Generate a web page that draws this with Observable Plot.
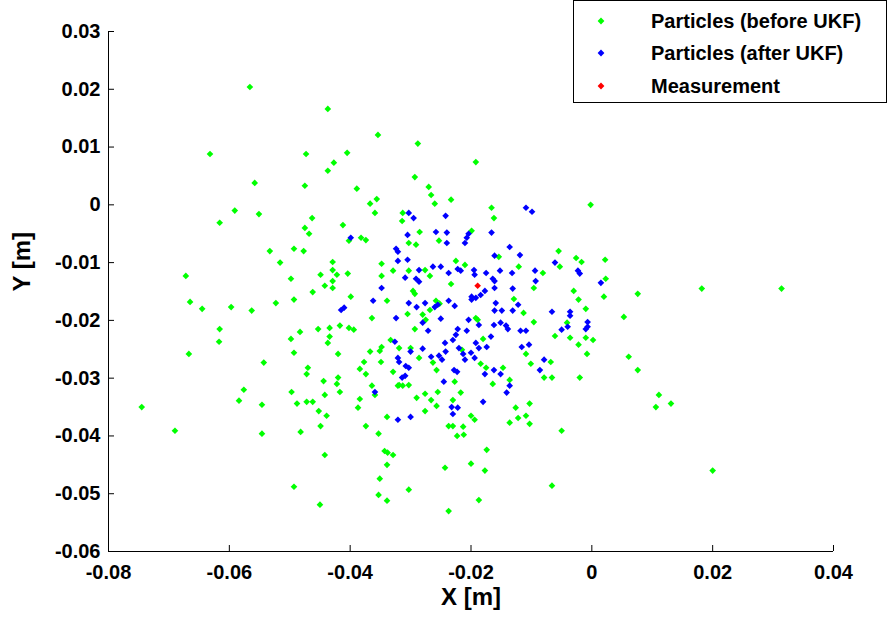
<!DOCTYPE html>
<html>
<head>
<meta charset="utf-8">
<script src="https://cdn.jsdelivr.net/npm/d3@7"></script>
<script src="https://cdn.jsdelivr.net/npm/@observablehq/plot@0.6"></script>
<style>
  html, body { margin: 0; padding: 0; background: #fff; }
  #wrap { position: relative; width: 890px; height: 621px; font-family: "Liberation Sans", Arial, sans-serif; }
  #legend { position: absolute; left: 573px; top: 0px; width: 314px; height: 103px; border: 1px solid #000; background: #fff; box-sizing: border-box; }
  .row { position: absolute; left: 0; height: 24px; font-weight: bold; font-size: 20px; color: #000; }
  .row svg { position: absolute; left: 21px; top: 5px; }
  .row span { position: absolute; left: 77px; top: 0px; white-space: nowrap; line-height: 24px; }
</style>
</head>
<body>
<div id="wrap">
  <div id="chart"></div>
  <div id="legend"></div>
</div>
<script>
const beforeX = [-0.0566,-0.0632,-0.0558,-0.0475,-0.0591,-0.0551,-0.0616,-0.0475,-0.0533,-0.0493,-0.0477,-0.0516,-0.0672,-0.0498,-0.0665,-0.0523,-0.0493,-0.0645,-0.0597,-0.0563,-0.0616,-0.0617,-0.0667,-0.0483,-0.0498,-0.0493,-0.0543,-0.0576,-0.0584,-0.0546,-0.0497,-0.0488,-0.0745,-0.0690,-0.0546,-0.0482,-0.0493,-0.0437,-0.0354,-0.0288,-0.0473,-0.0405,-0.0427,-0.0437,-0.0389,-0.0293,-0.0270,-0.0266,-0.0260,-0.0233,-0.0367,-0.0356,-0.0359,-0.0463,-0.0468,-0.0412,-0.0313,-0.0314,-0.0285,-0.0192,-0.0166,-0.0162,-0.0002,-0.0199,-0.0402,-0.0382,-0.0374,-0.0429,-0.0429,-0.0449,-0.0422,-0.0404,-0.0429,-0.0442,-0.0429,-0.0462,-0.0348,-0.0329,-0.0348,-0.0399,-0.0339,-0.0364,-0.0453,-0.0434,-0.0417,-0.0402,-0.0394,-0.0434,-0.0437,-0.0333,-0.0348,-0.0253,-0.0291,-0.0303,-0.0225,-0.0210,-0.0303,-0.0276,-0.0268,-0.0233,-0.0296,-0.0293,-0.0258,-0.0252,-0.0305,-0.0268,-0.0280,-0.0275,-0.0293,-0.0192,-0.0189,-0.0180,-0.0300,-0.0055,-0.0154,-0.0026,-0.0017,-0.0053,-0.0121,-0.0081,-0.0096,-0.0030,-0.0129,-0.0022,-0.0113,-0.0010,-0.0041,-0.0096,-0.0061,-0.0036,-0.0022,-0.0010,0.0002,-0.0420,-0.0470,-0.0472,-0.0367,-0.0351,-0.0349,-0.0377,-0.0384,-0.0374,-0.0329,-0.0444,-0.0420,-0.0422,-0.0417,-0.0442,-0.0364,-0.0359,-0.0321,-0.0472,-0.0462,-0.0384,-0.0387,-0.0452,-0.0439,-0.0339,-0.0449,-0.0374,-0.0353,-0.0343,-0.0338,-0.0329,-0.0442,-0.0339,-0.0351,-0.0353,-0.0339,-0.0450,-0.0319,-0.0286,-0.0263,-0.0215,-0.0184,-0.0175,-0.0257,-0.0319,-0.0313,-0.0303,-0.0227,-0.0164,-0.0255,-0.0276,-0.0290,-0.0266,-0.0217,-0.0257,-0.0230,-0.0276,-0.0200,-0.0194,-0.0237,-0.0230,-0.0213,-0.0223,-0.0212,-0.0174,-0.0200,-0.0177,-0.0243,-0.0303,-0.0187,-0.0237,-0.0008,-0.0109,-0.0101,-0.0068,-0.0079,-0.0066,-0.0020,-0.0147,-0.0136,-0.0126,-0.0103,-0.0122,-0.0109,-0.0136,-0.0103,-0.0050,-0.0066,0.0022,0.0023,0.0020,0.0076,0.0182,0.0314,0.0053,0.0061,0.0076,0.0111,0.0106,0.0131,0.0200];
const beforeY = [0.0204,0.0088,0.0038,0.0033,-0.0010,-0.0016,-0.0031,-0.0040,-0.0080,-0.0076,-0.0080,-0.0100,-0.0123,-0.0128,-0.0168,-0.0170,-0.0164,-0.0180,-0.0177,-0.0183,-0.0215,-0.0237,-0.0258,-0.0220,-0.0232,-0.0256,-0.0273,-0.0320,-0.0339,-0.0346,-0.0324,-0.0344,-0.0350,-0.0391,-0.0396,-0.0393,-0.0488,0.0166,0.0121,0.0106,0.0088,0.0090,0.0073,0.0059,0.0028,0.0048,0.0031,0.0017,0.0002,0.0009,0.0002,0.0010,-0.0014,-0.0023,-0.0050,-0.0035,-0.0014,-0.0028,-0.0047,0.0074,-0.0005,-0.0023,0.0000,-0.0045,-0.0062,-0.0057,-0.0061,-0.0099,-0.0113,-0.0121,-0.0121,-0.0119,-0.0132,-0.0140,-0.0144,-0.0151,-0.0102,-0.0114,-0.0123,-0.0159,-0.0166,-0.0196,-0.0215,-0.0213,-0.0209,-0.0213,-0.0216,-0.0228,-0.0239,-0.0234,-0.0246,-0.0062,-0.0069,-0.0066,-0.0097,-0.0104,-0.0114,-0.0113,-0.0123,-0.0137,-0.0149,-0.0154,-0.0166,-0.0171,-0.0189,-0.0182,-0.0190,-0.0199,-0.0215,-0.0196,-0.0199,-0.0232,-0.0248,-0.0080,-0.0090,-0.0092,-0.0099,-0.0107,-0.0107,-0.0118,-0.0144,-0.0149,-0.0163,-0.0164,-0.0187,-0.0180,-0.0204,-0.0203,-0.0227,-0.0230,-0.0242,-0.0230,-0.0234,-0.0258,-0.0282,-0.0293,-0.0254,-0.0253,-0.0272,-0.0272,-0.0284,-0.0293,-0.0289,-0.0305,-0.0299,-0.0310,-0.0324,-0.0329,-0.0313,-0.0329,-0.0313,-0.0341,-0.0341,-0.0336,-0.0351,-0.0357,-0.0365,-0.0367,-0.0383,-0.0383,-0.0396,-0.0426,-0.0429,-0.0433,-0.0433,-0.0450,-0.0474,-0.0502,-0.0512,-0.0519,-0.0248,-0.0265,-0.0273,-0.0251,-0.0275,-0.0282,-0.0286,-0.0312,-0.0313,-0.0312,-0.0306,-0.0310,-0.0324,-0.0327,-0.0334,-0.0338,-0.0325,-0.0348,-0.0338,-0.0357,-0.0365,-0.0372,-0.0383,-0.0383,-0.0384,-0.0400,-0.0398,-0.0424,-0.0448,-0.0460,-0.0455,-0.0493,-0.0511,-0.0530,-0.0258,-0.0258,-0.0275,-0.0272,-0.0299,-0.0299,-0.0299,-0.0282,-0.0303,-0.0351,-0.0344,-0.0369,-0.0365,-0.0377,-0.0379,-0.0391,-0.0486,-0.0095,-0.0128,-0.0159,-0.0154,-0.0145,-0.0145,-0.0194,-0.0263,-0.0286,-0.0329,-0.0350,-0.0344,-0.0460];
const afterX = [-0.0303,-0.0295,-0.0242,-0.0258,-0.0240,-0.0109,-0.0099,-0.0166,-0.0204,-0.0305,-0.0399,-0.0324,-0.0321,-0.0321,-0.0348,-0.0362,-0.0415,-0.0410,-0.0324,-0.0326,-0.0240,-0.0207,-0.0210,-0.0305,-0.0263,-0.0250,-0.0237,-0.0222,-0.0217,-0.0286,-0.0291,-0.0286,-0.0309,-0.0195,-0.0194,-0.0175,-0.0164,-0.0199,-0.0192,-0.0184,-0.0177,-0.0199,-0.0276,-0.0255,-0.0260,-0.0237,-0.0227,-0.0303,-0.0290,-0.0280,-0.0271,-0.0250,-0.0222,-0.0207,-0.0204,-0.0187,-0.0167,-0.0225,-0.0230,-0.0243,-0.0192,-0.0174,-0.0280,-0.0220,-0.0136,-0.0119,-0.0161,-0.0061,-0.0152,-0.0132,-0.0094,-0.0093,-0.0023,-0.0020,-0.0161,-0.0161,-0.0131,-0.0159,-0.0122,-0.0161,-0.0149,-0.0131,-0.0066,-0.0036,-0.0036,-0.0007,-0.0007,-0.0010,-0.0162,-0.0151,-0.0142,-0.0139,-0.0118,-0.0109,-0.0040,-0.0050,-0.0116,-0.0104,-0.0321,-0.0359,-0.0321,-0.0300,-0.0319,-0.0266,-0.0253,-0.0248,-0.0242,-0.0213,-0.0210,-0.0200,-0.0194,-0.0187,-0.0308,-0.0303,-0.0309,-0.0314,-0.0228,-0.0223,-0.0162,-0.0245,-0.0177,-0.0232,-0.0222,-0.0180,-0.0230,-0.0300,-0.0079,-0.0086,-0.0151,-0.0136,-0.0141,0.0015];
const afterY = [-0.0014,-0.0023,-0.0019,-0.0047,-0.0048,-0.0005,-0.0012,-0.0048,-0.0050,-0.0052,-0.0057,-0.0076,-0.0081,-0.0097,-0.0144,-0.0166,-0.0182,-0.0178,-0.0196,-0.0237,-0.0066,-0.0057,-0.0066,-0.0095,-0.0107,-0.0107,-0.0118,-0.0111,-0.0114,-0.0113,-0.0128,-0.0133,-0.0126,-0.0113,-0.0121,-0.0118,-0.0128,-0.0159,-0.0161,-0.0156,-0.0149,-0.0164,-0.0170,-0.0173,-0.0177,-0.0166,-0.0175,-0.0170,-0.0177,-0.0204,-0.0218,-0.0197,-0.0215,-0.0218,-0.0199,-0.0208,-0.0228,-0.0225,-0.0234,-0.0239,-0.0239,-0.0246,-0.0249,-0.0248,-0.0073,-0.0087,-0.0088,-0.0100,-0.0114,-0.0118,-0.0114,-0.0132,-0.0114,-0.0119,-0.0132,-0.0144,-0.0145,-0.0170,-0.0173,-0.0183,-0.0183,-0.0183,-0.0185,-0.0185,-0.0192,-0.0203,-0.0211,-0.0215,-0.0208,-0.0204,-0.0209,-0.0215,-0.0218,-0.0218,-0.0211,-0.0216,-0.0246,-0.0242,-0.0265,-0.0324,-0.0372,-0.0254,-0.0272,-0.0263,-0.0261,-0.0268,-0.0254,-0.0258,-0.0268,-0.0256,-0.0265,-0.0248,-0.0279,-0.0282,-0.0296,-0.0299,-0.0286,-0.0289,-0.0286,-0.0306,-0.0293,-0.0350,-0.0351,-0.0341,-0.0362,-0.0367,-0.0268,-0.0286,-0.0293,-0.0313,-0.0325,-0.0135];
const measX = [-0.0189];
const measY = [-0.0140];

const xTicks = [-0.08, -0.06, -0.04, -0.02, 0, 0.02, 0.04];
const yTicks = [0.03, 0.02, 0.01, 0, -0.01, -0.02, -0.03, -0.04, -0.05, -0.06];
const seriesNames = ["Particles (before UKF)", "Particles (after UKF)", "Measurement"];
const seriesColors = ["#00ff00", "#0000ff", "#ff0000"];
const xLabel = "X [m]";
const yLabel = "Y [m]";

const toPoints = (xs, ys) => xs.map((x, i) => ({x, y: ys[i]}));
const before = toPoints(beforeX, beforeY);
const after = toPoints(afterX, afterY);
const meas = toPoints(measX, measY);
const fmt = d => d === 0 ? "0" : d.toFixed(2);

const chart = Plot.plot({
  width: 890,
  height: 621,
  marginLeft: 108,
  marginRight: 57,
  marginTop: 31,
  marginBottom: 70,
  x: {domain: [-0.08, 0.04]},
  y: {domain: [-0.06, 0.03]},
  style: {fontFamily: "'Liberation Sans', Arial, sans-serif", fontWeight: "bold", fontSize: "20px", color: "#000", background: "#fff", overflow: "visible"},
  marks: [
    Plot.ruleX([-0.08], {stroke: "#000"}),
    Plot.ruleY([-0.06], {stroke: "#000"}),
    Plot.axisX(xTicks, {tickFormat: fmt, tickSize: -6, tickPadding: 19, label: null, fontSize: 20, fontWeight: "bold"}),
    Plot.axisY(yTicks, {tickFormat: fmt, tickSize: -6, tickPadding: 14, label: null, fontSize: 20, fontWeight: "bold"}),
    Plot.dot(before, {x: "x", y: "y", symbol: "diamond2", r: 3, fill: seriesColors[0], stroke: "none"}),
    Plot.dot(after, {x: "x", y: "y", symbol: "diamond2", r: 3, fill: seriesColors[1], stroke: "none"}),
    Plot.dot(meas, {x: "x", y: "y", symbol: "diamond2", r: 3, fill: seriesColors[2], stroke: "none"}),
    Plot.text([xLabel], {text: d => d, frameAnchor: "bottom", dy: 53, fontSize: 24, fontWeight: "bold"}),
    Plot.text([yLabel], {text: d => d, frameAnchor: "left", dx: -86, rotate: -90, fontSize: 24, fontWeight: "bold"})
  ]
});
document.getElementById("chart").appendChild(chart);

const legend = document.getElementById("legend");
const rowTops = [8, 40, 73];
seriesNames.forEach((name, i) => {
  const row = document.createElement("div");
  row.className = "row";
  row.style.top = rowTops[i] + "px";
  row.innerHTML = `<svg width="12" height="14" viewBox="-6 -7 12 14"><path d="M0,-3.4L3.4,0L0,3.4L-3.4,0Z" fill="${seriesColors[i]}"/></svg><span></span>`;
  row.querySelector("span").textContent = name;
  legend.appendChild(row);
});
</script>
</body>
</html>
